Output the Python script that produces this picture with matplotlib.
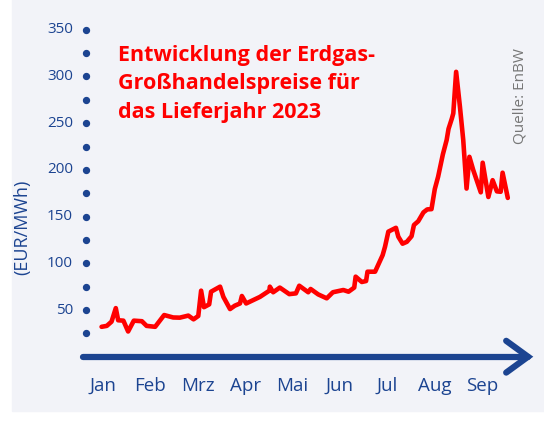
import matplotlib.pyplot as plt
from matplotlib.patches import Rectangle

# Monatsposition (0 = Jan) und Preis in EUR/MWh
x_pos = [-0.03, 0.08, 0.18, 0.27, 0.32, 0.43, 0.53, 0.65, 0.82, 0.92, 1.10, 1.29, 1.48, 1.62,
         1.80, 1.91, 2.01, 2.07, 2.13, 2.24, 2.28, 2.47, 2.54, 2.68, 2.78, 2.89, 2.93, 3.02,
         3.31, 3.51, 3.52, 3.59, 3.73, 3.93, 4.07, 4.14, 4.33, 4.38, 4.54, 4.72, 4.85, 5.07,
         5.18, 5.30, 5.33, 5.46, 5.55, 5.58, 5.74, 5.90, 5.95, 6.02, 6.18, 6.23, 6.32, 6.41,
         6.51, 6.56, 6.65, 6.76, 6.84, 6.93, 7.00, 7.07, 7.17, 7.25, 7.29, 7.36, 7.39, 7.45,
         7.53, 7.60, 7.67, 7.73, 7.81, 7.97, 8.01, 8.13, 8.22, 8.31, 8.39, 8.43, 8.54]
preis = [32, 33, 37.5, 52, 39, 38.6, 27, 38.6, 38, 33, 32, 44.6, 42, 41.8,
         44, 40, 43.6, 70.7, 53, 56, 69.6, 75, 64, 51, 54.6, 57, 65, 57,
         64, 70.7, 75, 69, 74, 67, 67.8, 76, 69, 72.5, 66.7, 62.5, 69, 71.4,
         69.6, 74, 85.7, 80, 81, 91, 91, 108.8, 117.8, 133.9, 138, 128.5, 121, 123,
         129, 141, 145, 154.5, 157.7, 158, 179.5, 192.7, 216.6, 232, 244, 255, 260.5, 305,
         267.7, 232, 180, 214, 200, 176, 207.7, 171, 189, 177, 176.6, 197, 170]

monate = ['Jan', 'Feb', 'Mrz', 'Apr', 'Mai', 'Jun', 'Jul', 'Aug', 'Sep']
y_punkte = list(range(25, 351, 25))
y_labels = [50, 100, 150, 200, 250, 300, 350]

blau = '#1c4491'
rot = '#ff0000'
bg = '#f2f3f8'

fig = plt.figure(figsize=(5.44, 4.21), dpi=100)
fig.patches.append(Rectangle((12 / 544, 10 / 421), 1, 1, transform=fig.transFigure,
                             color=bg, zorder=-5))

# Achsen so gelegt, dass 0 = Jan bei px 103 und 47.4 px pro Monat
W, H = 544, 421
px0, px1, py0, py1 = 60, 540, 370, 15
ax = fig.add_axes([px0 / W, (H - py0) / H, (px1 - px0) / W, (py0 - py1) / H], zorder=2)
ax.set_xlim((px0 - 103) / 47.4, (px1 - 103) / 47.4)
ax.set_ylim((356.7 - py0) / 0.934, (356.7 - py1) / 0.934)
ax.axis('off')
ax.patch.set_visible(False)

x_achse = (85.7 - 103) / 47.4
ax.scatter([x_achse] * len(y_punkte), y_punkte, s=18, color=blau, zorder=3, clip_on=False)
for v in y_labels:
    ax.text(x_achse - 0.27, v, str(v), ha='right', va='center', fontsize=11,
            color=blau, family='Open Sans')

# x-Achse mit Pfeil
ende = (528 - 103) / 47.4
ax.plot([(83 - 103) / 47.4, ende], [0, 0], color=blau, lw=4.5, solid_capstyle='round',
        clip_on=False)
ax.plot([ende - 0.46, ende, ende - 0.46], [17, 0, -17], color=blau, lw=4.5,
        solid_capstyle='round', solid_joinstyle='miter', clip_on=False)

for i, m in enumerate(monate):
    ax.text(i, -31, m, ha='center', va='center', fontsize=13.5, color=blau, family='Open Sans')

ax.plot(x_pos, preis, color=rot, lw=3.3, solid_joinstyle='round', solid_capstyle='round', zorder=4)

fig.text(118 / W, 1 - 84 / H, 'Entwicklung der Erdgas-\nGroßhandelspreise für\ndas Lieferjahr 2023',
         ha='left', va='center', fontsize=15.5, fontweight='bold', color=rot,
         family='Open Sans', linespacing=1.45, zorder=3)
fig.text(520 / W, 1 - 96 / H, 'Quelle: EnBW', rotation=90, ha='center', va='center',
         fontsize=11, color='#777777', family='Open Sans', zorder=3)
fig.text(22 / W, 1 - 227 / H, '(EUR/MWh)', rotation=90, ha='center', va='center',
         fontsize=13, color=blau, family='Open Sans', zorder=3)

fig.savefig('out.png', dpi=100)
